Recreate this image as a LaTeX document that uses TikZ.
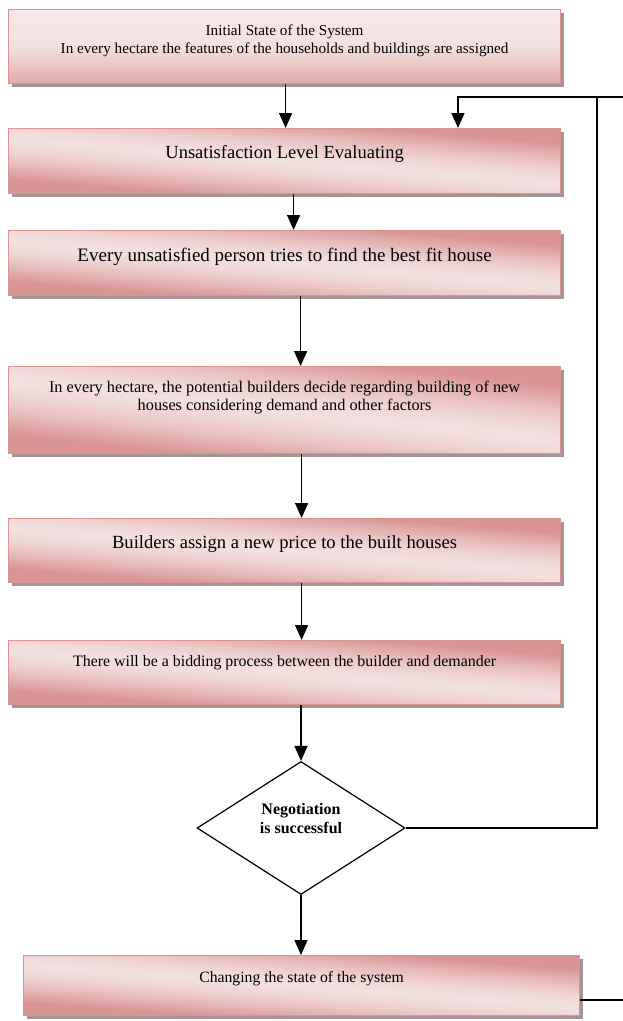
\documentclass[tikz,border=0pt]{standalone}
\usepackage{fontspec}
\setmainfont{Liberation Serif}
\usetikzlibrary{calc,
	positioning,
	shapes,
	shadows,
	arrows.meta}
\definecolor{rosedark}{RGB}{217,149,148}
\definecolor{roselight}{RGB}{244,224,224}
\definecolor{shadowgray}{RGB}{165,148,148}
% diagonal rose gradient: dark top right / bottom left, light band across
\pgfdeclarefunctionalshading{rosediag}{\pgfpoint{0bp}{0bp}}{\pgfpoint{100bp}{100bp}}{}{
	50 sub 0.02 mul
	exch 50 sub 0.02 mul
	0.7 mul add
	abs 1.6 mul dup 1 gt {pop 1} if
	dup sqrt mul
	dup -0.106 mul 0.957 add
	exch dup -0.294 mul 0.878 add
	exch -0.298 mul 0.878 add
}
\tikzstyle{stage}=[draw=rosedark, line width=1.2pt, shading=rosediag,
		drop shadow={shadow xshift=3pt, shadow yshift=-3pt, fill=shadowgray, opacity=1},
		anchor=north west, minimum width=552pt, inner xsep=4pt, inner ysep=0pt, align=center]
\tikzstyle{decision}=[diamond, draw, line width=1.2pt, minimum width=208pt,
		minimum height=133pt, inner sep=0pt, align=center]
\tikzstyle{flow}=[-{Triangle[length=15pt,width=13pt]}, line width=1.4pt]

\begin{document}
\begin{tikzpicture}[x=1pt, y=-1pt]
                \useasboundingbox (0,0) rectangle (623,1021);
                % boxes
                \node[stage, top color=roselight!70!white, bottom color=rosedark!80, middle color=roselight,
                    text height=44pt, text depth=30pt,
                    font=\fontsize{15.2}{18}\selectfont] (init) at (8,9)
                    {Initial State of the System\\In every hectare the features of the households and buildings are assigned};
                \node[stage, text height=30pt, text depth=35pt, font=\fontsize{18.5}{22}\selectfont] (eval) at (8,128)
                    {Unsatisfaction Level Evaluating};
                \node[stage, text height=31pt, text depth=34pt, font=\fontsize{19}{22}\selectfont] (seek) at (8,230)
                    {Every unsatisfied person tries to find the best fit house};
                \node[stage, text height=44pt, text depth=43pt, font=\fontsize{16.3}{18.5}\selectfont] (build) at (8,366)
                    {In every hectare, the potential builders decide regarding building of new\\houses considering demand and other factors};
                \node[stage, text height=30pt, text depth=34pt, font=\fontsize{18.6}{22}\selectfont] (price) at (8,518)
                    {Builders assign a new price to the built houses};
                \node[stage, text height=26pt, text depth=38pt, font=\fontsize{15.9}{18}\selectfont] (bid) at (8,640)
                    {There will be a bidding process between the builder and demander};
                \node[decision, text depth=19pt, font=\bfseries\fontsize{16}{19}\selectfont] (neg) at (301,828)
                    {Negotiation\\is successful};
                \node[stage, minimum width=556pt, text height=27pt, text depth=33pt,
                    font=\fontsize{15.7}{18}\selectfont] (change) at (23,955)
                    {Changing the state of the system};
                % loop coordinates
                \coordinate (loopTop) at (597,97);
                \coordinate (loopIn) at (458,97);
                \coordinate (outTop) at (623,97);
                \coordinate (outBot) at (623,1000);
                % connectors
                \draw[flow] ([xshift=1pt]init.south) -- ([xshift=1pt]eval.north);
                \draw[flow] ([xshift=9pt]eval.south) -- ([xshift=9pt]seek.north);
                \draw[flow] ([xshift=16pt]seek.south) -- ([xshift=16pt]build.north);
                \draw[flow] ([xshift=17pt]build.south) -- ([xshift=17pt]price.north);
                \draw[flow] ([xshift=17pt]price.south) -- ([xshift=17pt]bid.north);
                \draw[flow] (bid.south -| neg.north) -- (neg.north);
                \draw[flow] (neg.south) -- (neg.south |- change.north);
                \draw[flow] (neg.east) -- (neg.east -| loopTop) -- (loopTop) -- (loopIn) -- (loopIn |- eval.north);
                \draw[line width=1.4pt] (loopTop) -- (outTop);
                \draw[line width=1.4pt] (change.east |- outBot) -- (outBot);
            \end{tikzpicture}
\end{document}
